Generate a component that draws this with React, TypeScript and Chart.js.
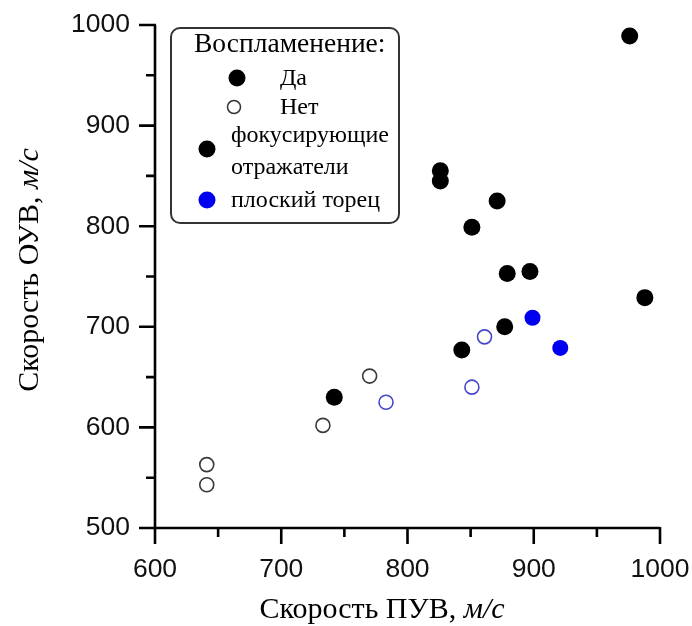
import React, { useEffect, useRef } from "react";
import { Chart, registerables } from "chart.js";

Chart.register(...registerables);

// Воспламенение: Да, фокусирующие отражатели
const xFocusYes = [976, 988, 826, 826, 871, 851, 879, 897, 877, 843, 742];
const yFocusYes = [989, 729, 855, 845, 825, 799, 753, 755, 700, 677, 630];
// Воспламенение: Да, плоский торец
const xFlatYes = [899, 921];
const yFlatYes = [709, 679];
// Воспламенение: Нет, фокусирующие отражатели
const xFocusNo = [770, 733, 641, 641];
const yFocusNo = [651, 602, 563, 543];
// Воспламенение: Нет, плоский торец
const xFlatNo = [861, 851, 783];
const yFlatNo = [690, 640, 625];

const xTicks = [600, 700, 800, 900, 1000];
const yTicks = [500, 600, 700, 800, 900, 1000];
const xMinor = [650, 750, 850, 950];
const yMinor = [550, 650, 750, 850, 950];

const xTitle = ["Скорость ПУВ, ", "м/с"];
const yTitle = ["Скорость ОУВ, ", "м/с"];
const legendTitle = "Воспламенение:";
const legendYes = "Да";
const legendNo = "Нет";
const legendFocus = ["фокусирующие", "отражатели"];
const legendFlat = "плоский торец";

const pts = (xs: number[], ys: number[]) => xs.map((x, i) => ({ x, y: ys[i] }));

const SERIF = "'Liberation Serif', 'Times New Roman', serif";
const SANS = "'Liberation Sans', Arial, sans-serif";

const decorPlugin = {
  id: "decor",
  beforeDatasetsDraw(chart: any) {
    const { ctx, chartArea, scales } = chart;
    const xs = scales.x;
    const ys = scales.y;
    ctx.save();
    ctx.strokeStyle = "#000";
    ctx.lineWidth = 2.6;
    ctx.lineCap = "butt";
    // axes
    ctx.beginPath();
    ctx.moveTo(chartArea.left, chartArea.top);
    ctx.lineTo(chartArea.left, chartArea.bottom);
    ctx.lineTo(chartArea.right, chartArea.bottom);
    ctx.stroke();
    // ticks
    const major = 16;
    const minor = 9;
    ctx.beginPath();
    xTicks.forEach((v) => {
      const p = xs.getPixelForValue(v);
      ctx.moveTo(p, chartArea.bottom - 1);
      ctx.lineTo(p, chartArea.bottom + major);
    });
    xMinor.forEach((v) => {
      const p = xs.getPixelForValue(v);
      ctx.moveTo(p, chartArea.bottom);
      ctx.lineTo(p, chartArea.bottom + minor);
    });
    yTicks.forEach((v) => {
      const p = ys.getPixelForValue(v);
      ctx.moveTo(chartArea.left + 1, p);
      ctx.lineTo(chartArea.left - major, p);
    });
    yMinor.forEach((v) => {
      const p = ys.getPixelForValue(v);
      ctx.moveTo(chartArea.left, p);
      ctx.lineTo(chartArea.left - minor, p);
    });
    ctx.stroke();

    // axis titles (mixed upright / italic)
    ctx.fillStyle = "#000";
    ctx.textBaseline = "alphabetic";
    ctx.textAlign = "left";
    const fN = `30px ${SERIF}`;
    const fI = `italic 30px ${SERIF}`;
    const drawMixed = (parts: string[], cx: number, base: number) => {
      ctx.font = fN;
      const w1 = ctx.measureText(parts[0]).width;
      ctx.font = fI;
      const w2 = ctx.measureText(parts[1]).width;
      const start = cx - (w1 + w2) / 2;
      ctx.font = fN;
      ctx.fillText(parts[0], start, base);
      ctx.font = fI;
      ctx.fillText(parts[1], start + w1, base);
    };
    drawMixed(xTitle, 382, 618);
    ctx.save();
    ctx.translate(38, 270);
    ctx.rotate(-Math.PI / 2);
    drawMixed(yTitle, 0, 0);
    ctx.restore();
    ctx.restore();
  },
  afterDraw(chart: any) {
    const { ctx } = chart;
    ctx.save();
    // legend box
    const bx = 171, by = 28, bw = 228, bh = 195, r = 9;
    ctx.beginPath();
    ctx.moveTo(bx + r, by);
    ctx.lineTo(bx + bw - r, by);
    ctx.arcTo(bx + bw, by, bx + bw, by + r, r);
    ctx.lineTo(bx + bw, by + bh - r);
    ctx.arcTo(bx + bw, by + bh, bx + bw - r, by + bh, r);
    ctx.lineTo(bx + r, by + bh);
    ctx.arcTo(bx, by + bh, bx, by + bh - r, r);
    ctx.lineTo(bx, by + r);
    ctx.arcTo(bx, by, bx + r, by, r);
    ctx.closePath();
    ctx.fillStyle = "#fff";
    ctx.fill();
    ctx.strokeStyle = "#333";
    ctx.lineWidth = 2;
    ctx.stroke();

    ctx.fillStyle = "#000";
    ctx.textAlign = "left";
    ctx.textBaseline = "alphabetic";
    ctx.font = `27.5px ${SERIF}`;
    ctx.fillText(legendTitle, 194, 52);

    const dot = (x: number, y: number, rad: number, fill: string | null, stroke: string | null) => {
      ctx.beginPath();
      ctx.arc(x, y, rad, 0, Math.PI * 2);
      if (fill) {
        ctx.fillStyle = fill;
        ctx.fill();
      }
      if (stroke) {
        ctx.strokeStyle = stroke;
        ctx.lineWidth = 1.5;
        ctx.stroke();
      }
    };
    dot(237, 78, 8.5, "#000", null);
    dot(234, 107, 6.5, null, "#333");
    dot(207, 149, 8.5, "#000", null);
    dot(207, 200, 8.5, "#0000f0", null);

    ctx.fillStyle = "#000";
    ctx.font = `24px ${SERIF}`;
    ctx.textBaseline = "middle";
    ctx.fillText(legendYes, 280, 79);
    ctx.fillText(legendNo, 280, 108);
    ctx.fillText(legendFocus[0], 231, 136);
    ctx.fillText(legendFocus[1], 231, 168);
    ctx.fillText(legendFlat, 231, 201);
    ctx.restore();
  },
};

export default function App() {
  const ref = useRef<HTMLCanvasElement | null>(null);
  useEffect(() => {
    if (!ref.current) return;
    const chart = new Chart(ref.current, {
      type: "scatter",
      data: {
        datasets: [
          {
            label: "Нет, фокусирующие",
            data: pts(xFocusNo, yFocusNo),
            pointRadius: 7,
            pointBackgroundColor: "rgba(255,255,255,0)",
            pointBorderColor: "#3a3a3a",
            pointBorderWidth: 1.6,
          },
          {
            label: "Нет, плоский торец",
            data: pts(xFlatNo, yFlatNo),
            pointRadius: 7,
            pointBackgroundColor: "rgba(255,255,255,0)",
            pointBorderColor: "#4646c8",
            pointBorderWidth: 1.6,
          },
          {
            label: "Да, фокусирующие",
            data: pts(xFocusYes, yFocusYes),
            pointRadius: 8.5,
            pointBackgroundColor: "#000",
            pointBorderWidth: 0,
          },
          {
            label: "Да, плоский торец",
            data: pts(xFlatYes, yFlatYes),
            pointRadius: 8,
            pointBackgroundColor: "#0000f0",
            pointBorderWidth: 0,
          },
        ],
      },
      options: {
        animation: false,
        responsive: false,
        maintainAspectRatio: false,
        layout: { padding: { left: 0, right: 32, top: 25, bottom: 0 } },
        plugins: {
          legend: { display: false },
          tooltip: { enabled: false },
          title: { display: false },
        },
        scales: {
          x: {
            type: "linear",
            min: 600,
            max: 1000,
            afterFit: (s: any) => {
              s.height = 98;
              s.paddingLeft = 0;
              s.paddingRight = 0;
            },
            afterBuildTicks: (s: any) => {
              s.ticks = xTicks.map((v) => ({ value: v }));
            },
            grid: { display: false, drawTicks: false },
            border: { display: false },
            ticks: {
              font: { family: SANS, size: 26.5 },
              color: "#111",
              padding: 26,
              maxRotation: 0,
              callback: (v: any) => String(v),
            },
          },
          y: {
            type: "linear",
            min: 500,
            max: 1000,
            afterFit: (s: any) => {
              s.width = 155;
              s.paddingTop = 0;
              s.paddingBottom = 0;
            },
            afterBuildTicks: (s: any) => {
              s.ticks = yTicks.map((v) => ({ value: v }));
            },
            grid: { display: false, drawTicks: false },
            border: { display: false },
            ticks: {
              font: { family: SANS, size: 26.5 },
              color: "#111",
              padding: 25,
              callback: (v: any) => String(v),
            },
          },
        },
      },
      plugins: [decorPlugin],
    });
    return () => chart.destroy();
  }, []);
  return (
    <div style={{ position: "absolute", left: 0, top: 0, width: 692, height: 626, background: "#fff" }}>
      <canvas ref={ref} width={692} height={626} style={{ width: 692, height: 626, display: "block" }} />
    </div>
  );
}
